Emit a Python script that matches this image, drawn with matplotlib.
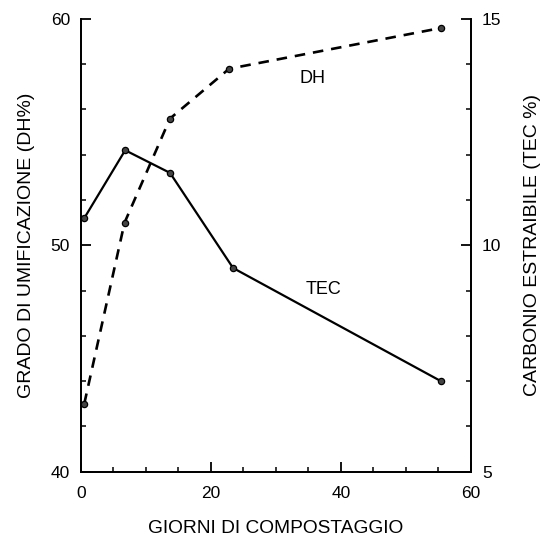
import matplotlib.pyplot as plt
from matplotlib.ticker import MultipleLocator

plt.rcParams['font.family'] = ['Liberation Sans', 'DejaVu Sans']

# Degree of humification (left axis) and extractable carbon (right axis)
days_dh = [0.5, 6.7, 13.7, 22.8, 55.4]
dh_values = [43.0, 51.0, 55.6, 57.8, 59.6]

days_tec = [0.5, 6.8, 13.7, 23.4, 55.4]
tec_values = [10.6, 12.1, 11.6, 9.5, 7.0]

fig = plt.figure(figsize=(5.4, 5.41), dpi=100)
ax = fig.add_axes([0.15, 0.128, 0.722, 0.837])
ax2 = ax.twinx()

ax.plot(days_dh, dh_values, color='black', lw=1.9, ls=(0, (4, 3)),
        marker='o', ms=4.5, mfc='#444444', mec='black', mew=0.9)
ax2.plot(days_tec, tec_values, color='black', lw=1.6,
         marker='o', ms=4.5, mfc='#444444', mec='black', mew=0.9)

ax.set_xlim(0, 60)
ax.set_ylim(40, 60)
ax2.set_ylim(5, 15)

ax.xaxis.set_major_locator(MultipleLocator(20))
ax.xaxis.set_minor_locator(MultipleLocator(5))
ax.yaxis.set_major_locator(MultipleLocator(10))
ax.yaxis.set_minor_locator(MultipleLocator(2))
ax2.yaxis.set_major_locator(MultipleLocator(5))
ax2.yaxis.set_minor_locator(MultipleLocator(1))

for a in (ax, ax2):
    a.spines['top'].set_visible(False)
    for s in a.spines.values():
        s.set_linewidth(1.3)
    a.tick_params(which='major', direction='in', length=7, width=1.3,
                  labelsize=12.5, pad=8)
    a.tick_params(which='minor', direction='in', length=3.5, width=1.1)
ax.tick_params(axis='x', pad=10)

ax.set_xlabel('GIORNI DI COMPOSTAGGIO', fontsize=13.8, labelpad=14)
ax.set_ylabel('GRADO DI UMIFICAZIONE (DH%)', fontsize=14, labelpad=11)
ax2.set_ylabel('CARBONIO ESTRAIBILE (TEC %)', fontsize=14, labelpad=16,
               rotation=90)

ax.text(35.6, 57.38, 'DH', fontsize=13, ha='center', va='center')
ax2.text(37.3, 9.03, 'TEC', fontsize=13, ha='center', va='center')

fig.savefig('out.png', dpi=100)
